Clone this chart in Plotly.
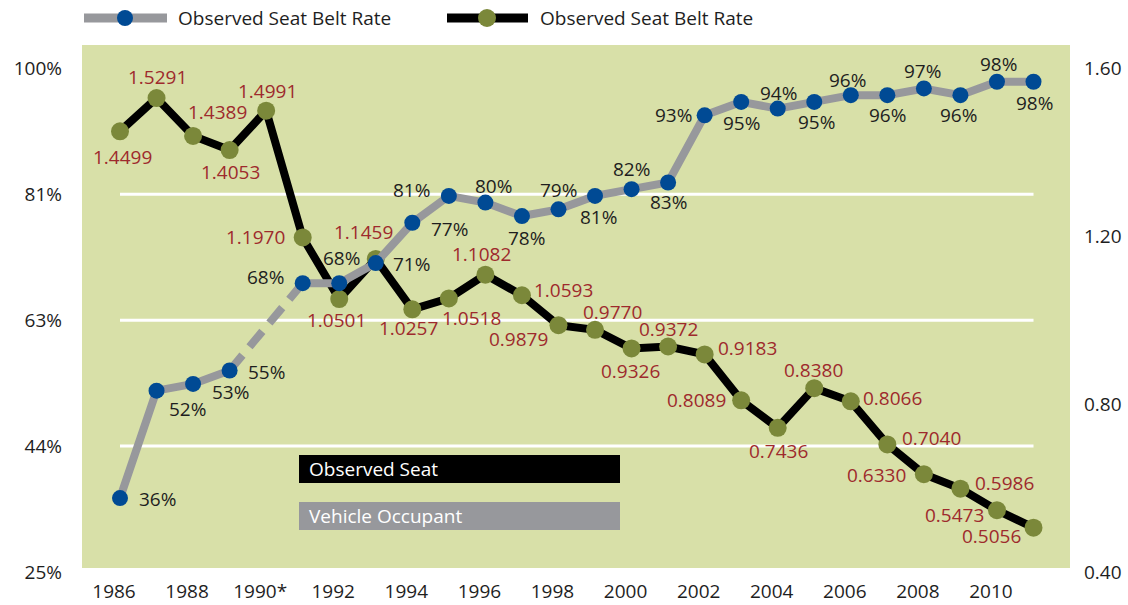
import plotly.graph_objects as go

# ---- data -------------------------------------------------------------
years = list(range(1986, 2012))

# observed seat belt use rate (%), 1990 not observed
belt_use_pct = [36, 52, 53, 55, None, 68, 68, 71, 77, 81, 80, 78, 79,
                81, 82, 83, 93, 95, 94, 95, 96, 96, 97, 96, 98, 98]

# fatality rate series on the right-hand axis
fatality_rate = [1.4499, 1.5291, 1.4389, 1.4053, 1.4991, 1.1970, 1.0501,
                 1.1459, 1.0257, 1.0518, 1.1082, 1.0593, 0.9879, 0.9770,
                 0.9326, 0.9372, 0.9183, 0.8089, 0.7436, 0.8380, 0.8066,
                 0.7040, 0.6330, 0.5986, 0.5473, 0.5056]

x_tick_years = list(range(1986, 2011, 2))
x_tick_text = ["1986", "1988", "1990*", "1992", "1994", "1996", "1998",
               "2000", "2002", "2004", "2006", "2008", "2010"]

pct_ticks = [25, 43.75, 62.5, 81.25, 100]
pct_tick_text = ["25%", "44%", "63%", "81%", "100%"]
rate_ticks = [0.40, 0.80, 1.20, 1.60]

legend_text = ["Observed Seat Belt Rate", "Observed Seat Belt Rate"]
box_text = ["Observed Seat", "Vehicle Occupant"]

# label placement (pixel offsets from each point: right, down)
pct_label_offsets = [(37, 1), (31, 18), (37, 8), (37, 1), None, (-37, -6),
                     (2, -25), (36, 1), (37, 6), (-37, -6), (8, -17), (5, 22),
                     (0, -19), (3, 21), (0, -20), (0, 20), (-31, 0), (0, 21),
                     (1, -16), (2, 20), (-3, -15), (0, 20), (-1, -17),
                     (-2, 20), (2, -18), (1, 21)]
rate_label_offsets = [(2, 26), (1, -21), (24, -24), (1, 22), (1, -20),
                      (-47, 0), (-3, 21), (-12, -27), (-4, 19), (23, 20),
                      (-4, -21), (42, -5), (-40, 14), (17, -18), (-1, 23),
                      (0, -18), (43, -6), (-45, 0), (1, 23), (-1, -18),
                      (42, -3), (44, -6), (-47, 1), (44, -6), (-42, 5),
                      (-42, 8)]

# ---- styling ----------------------------------------------------------
FONT = "Open Sans"
FS = 19
BG_GREEN = "#D8E0A8"
GRAY = "#97989C"
BLUE = "#004A94"
OLIVE = "#7B883A"
RED = "#9E2A2D"
INK = "#1E1E1E"

W, H = 1128, 605
PL, PR, PT, PB = 82, 1070, 45, 572


def px(x):
    return (x - PL) / (PR - PL)


def py(y):
    return (PB - y) / (PB - PT)


fig = go.Figure()

# fatality rate (base axis, drawn underneath)
fig.add_trace(go.Scatter(
    x=years, y=fatality_rate, mode="lines+markers", yaxis="y",
    line=dict(color="black", width=8),
    marker=dict(color=OLIVE, size=18, line=dict(width=0)),
    showlegend=False, hoverinfo="skip"))

# dashed bridge over the unobserved 1990 value
i89, i91 = years.index(1989), years.index(1991)
fig.add_trace(go.Scatter(
    x=[years[i89], years[i91]], y=[belt_use_pct[i89], belt_use_pct[i91]],
    mode="lines", yaxis="y2",
    line=dict(color=GRAY, width=8, dash="20px,11px"),
    showlegend=False, hoverinfo="skip"))

# belt use rate (overlay axis, drawn on top)
fig.add_trace(go.Scatter(
    x=years, y=belt_use_pct, mode="lines+markers", yaxis="y2",
    connectgaps=False,
    line=dict(color=GRAY, width=8),
    marker=dict(color=BLUE, size=16, line=dict(width=0)),
    showlegend=False, hoverinfo="skip"))

annotations = []
for yr, v, off in zip(years, belt_use_pct, pct_label_offsets):
    if v is None:
        continue
    annotations.append(dict(
        x=yr, y=v, xref="x", yref="y2", text=f"{v}%", showarrow=False,
        xshift=off[0], yshift=-off[1], xanchor="center", yanchor="middle",
        font=dict(family=FONT, size=FS, color=INK)))
for yr, v, off in zip(years, fatality_rate, rate_label_offsets):
    annotations.append(dict(
        x=yr, y=v, xref="x", yref="y", text=f"{v:.4f}", showarrow=False,
        xshift=off[0], yshift=-off[1], xanchor="center", yanchor="middle",
        font=dict(family=FONT, size=FS, color=RED)))

# legend entries drawn by hand
legend_items = [(84, 167, 125, GRAY, BLUE, 16, 176),
                (447, 528, 487, "black", OLIVE, 18, 538)]
shapes = [
    # plot background
    dict(type="rect", xref="paper", yref="paper", x0=0, x1=1,
         y0=py(568), y1=1, fillcolor=BG_GREEN, line=dict(width=0),
         layer="below"),
]
for g in pct_ticks[1:-1]:
    shapes.append(dict(type="line", xref="x", yref="y2", x0=years[0],
                       x1=years[-1], y0=g, y1=g,
                       line=dict(color="white", width=3), layer="below"))

for (x0, x1, xm, lc, mc, ms, xt), label in zip(legend_items, legend_text):
    shapes.append(dict(type="line", xref="paper", yref="paper",
                       x0=px(x0), x1=px(x1), y0=py(18), y1=py(18),
                       line=dict(color=lc, width=9)))
    shapes.append(dict(type="circle", xref="paper", yref="paper",
                       xsizemode="pixel", ysizemode="pixel",
                       xanchor=px(xm), yanchor=py(18),
                       x0=-ms / 2, x1=ms / 2, y0=-ms / 2, y1=ms / 2,
                       fillcolor=mc, line=dict(width=0)))
    annotations.append(dict(x=px(xt), y=py(18), xref="paper", yref="paper",
                            text=label, showarrow=False, xanchor="left",
                            yanchor="middle",
                            font=dict(family=FONT, size=FS, color=INK)))

# caption boxes
for (y0, y1, fill), label in zip([(455, 483, "black"), (502, 530, GRAY)],
                                 box_text):
    shapes.append(dict(type="rect", xref="paper", yref="paper",
                       x0=px(299), x1=px(620), y0=py(y1), y1=py(y0),
                       fillcolor=fill, line=dict(width=0)))
    annotations.append(dict(x=px(307), y=py((y0 + y1) / 2), xref="paper",
                            yref="paper", text=label, showarrow=False,
                            xanchor="left", yanchor="middle",
                            font=dict(family=FONT, size=FS, color="white")))

x_scale = (1033.5 - 120) / 25.0
x_lo = 1986 - (120 - PL) / x_scale
x_hi = x_lo + (PR - PL) / x_scale

pct_scale = (PB - 68.3) / 75.0
pct_hi = 100 + (68.3 - PT) / pct_scale
rate_hi = 0.40 + (pct_hi - 25) / 75.0 * 1.2

fig.update_layout(
    width=W, height=H,
    margin=dict(l=PL, r=W - PR, t=PT, b=H - PB, pad=0, autoexpand=False),
    paper_bgcolor="white", plot_bgcolor="white",
    font=dict(family=FONT, size=FS, color=INK),
    showlegend=False,
    xaxis=dict(range=[x_lo, x_hi], tickvals=x_tick_years,
               ticktext=x_tick_text, showgrid=False, zeroline=False,
               showline=False, ticks="", ticklabelstandoff=6,
               ticklabelshift=-6, automargin=False,
               tickfont=dict(size=FS, color=INK)),
    yaxis=dict(range=[0.40, rate_hi], side="right", tickvals=rate_ticks,
               tickformat=".2f", showgrid=False, zeroline=False,
               showline=False, ticks="", ticklabelstandoff=13,
               automargin=False, tickfont=dict(size=FS, color=INK)),
    yaxis2=dict(range=[25, pct_hi], side="left", overlaying="y",
                tickvals=pct_ticks, ticktext=pct_tick_text, showgrid=False,
                zeroline=False, showline=False, ticks="",
                ticklabelstandoff=19, automargin=False,
                tickfont=dict(size=FS, color=INK)),
    shapes=shapes,
    annotations=annotations,
)

fig.write_html("out.html")
